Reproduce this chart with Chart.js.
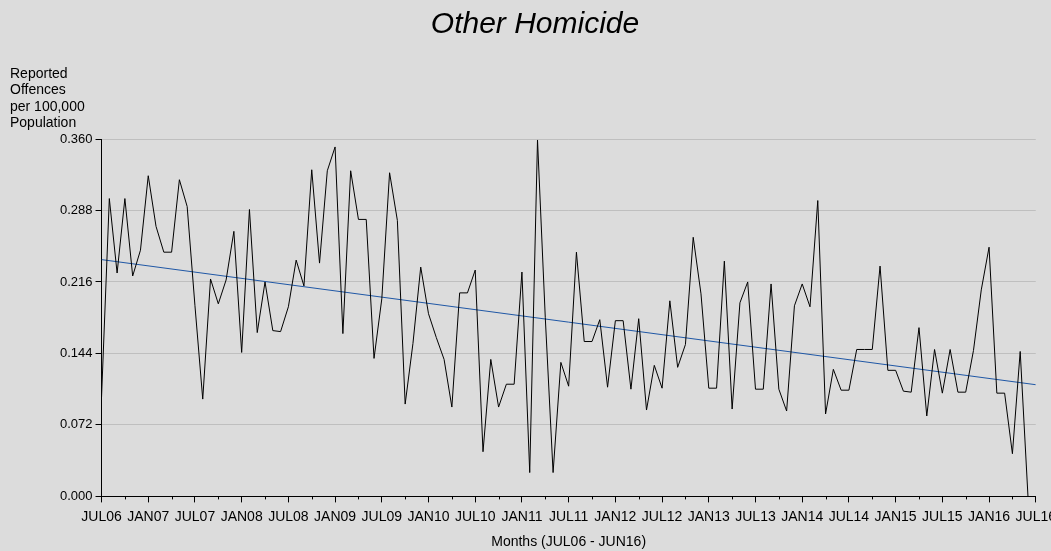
<!DOCTYPE html>
<html>
<head>
<meta charset="utf-8">
<script src="https://cdn.jsdelivr.net/npm/chart.js@4.4.0/dist/chart.umd.min.js"></script>
<style>
  html, body { margin: 0; padding: 0; background: #dcdcdc; overflow: hidden; }
  #wrap { position: relative; width: 1062px; height: 551px; }
</style>
</head>
<body>
<div id="wrap"><canvas id="lineChart"></canvas></div>
<script>
// monthly rate, JUL06 .. JUN16 (120 months)
const values = [
  0.100, 0.300, 0.225, 0.300, 0.222, 0.248, 0.323, 0.272, 0.246, 0.246, 0.319, 0.292,
  0.192, 0.098, 0.219, 0.194, 0.218, 0.267, 0.145, 0.289, 0.165, 0.216, 0.167, 0.166,
  0.191, 0.238, 0.212, 0.329, 0.235, 0.328, 0.352, 0.164, 0.328, 0.279, 0.279, 0.139,
  0.199, 0.326, 0.278, 0.093, 0.154, 0.231, 0.184, 0.160, 0.138, 0.090, 0.205, 0.205,
  0.228, 0.045, 0.138, 0.090, 0.113, 0.113, 0.226, 0.024, 0.359, 0.180, 0.024, 0.135,
  0.111, 0.246, 0.156, 0.156, 0.178, 0.110, 0.177, 0.177, 0.108, 0.179, 0.087, 0.132,
  0.109, 0.197, 0.130, 0.153, 0.261, 0.204, 0.109, 0.109, 0.237, 0.088, 0.195, 0.216,
  0.108, 0.108, 0.214, 0.108, 0.086, 0.192, 0.214, 0.191, 0.298, 0.083, 0.128, 0.107,
  0.107, 0.148, 0.148, 0.148, 0.232, 0.127, 0.127, 0.106, 0.105, 0.170, 0.081, 0.148,
  0.104, 0.148, 0.105, 0.105, 0.147, 0.208, 0.251, 0.104, 0.104, 0.043, 0.146, 0.000
];
// trend line end points (month index, value)
const trendX = [0, 120];
const trendY = [0.2385, 0.1125];

const tickLabels = ['JUL06', 'JAN07', 'JUL07', 'JAN08', 'JUL08', 'JAN09', 'JUL09', 'JAN10',
  'JUL10', 'JAN11', 'JUL11', 'JAN12', 'JUL12', 'JAN13', 'JUL13', 'JAN14', 'JUL14', 'JAN15',
  'JUL15', 'JAN16', 'JUL16'];
const yTicks = [0, 0.072, 0.144, 0.216, 0.288, 0.360];
const yTitle = ['Reported', 'Offences', 'per 100,000', 'Population'];

const FONT = "'Liberation Sans', Arial, sans-serif";

// title, y title block and the short quarter ticks
const extras = {
  id: 'extras',
  afterDraw(chart) {
    const c = chart.ctx;
    const x = chart.scales.x;
    c.save();
    c.fillStyle = '#000';
    c.textBaseline = 'middle';
    c.textAlign = 'center';
    c.font = 'italic 30px ' + FONT;
    c.fillText('Other Homicide', 535, 25);
    c.textAlign = 'left';
    c.font = '14px ' + FONT;
    yTitle.forEach((t, i) => c.fillText(t, 10, 74 + i * 16.5));
    c.strokeStyle = '#000';
    c.lineWidth = 1;
    c.beginPath();
    for (let v = 3; v < 120; v += 6) {
      const px = Math.round(x.getPixelForValue(v)) + 0.5;
      c.moveTo(px, x.top);
      c.lineTo(px, x.top + 3);
    }
    c.stroke();
    c.restore();
  }
};

const ctx = document.getElementById('lineChart').getContext('2d');
const myChart = new Chart(ctx, {
  type: 'line',
  data: {
    datasets: [{
      data: values.map((v, i) => ({ x: i, y: v })),
      borderColor: '#000000',
      borderWidth: 1,
      pointRadius: 0,
      tension: 0
    }, {
      data: trendX.map((v, i) => ({ x: v, y: trendY[i] })),
      borderColor: '#1f57a5',
      borderWidth: 1,
      pointRadius: 0
    }]
  },
  options: {
    responsive: true,
    maintainAspectRatio: false,
    animation: false,
    layout: { padding: { left: 57, top: 139, right: 0, bottom: 0 } },
    plugins: {
      legend: { display: false },
      tooltip: { enabled: false }
    },
    scales: {
      x: {
        type: 'linear',
        min: 0,
        max: 120,
        afterBuildTicks: s => { s.ticks = tickLabels.map((t, i) => ({ value: i * 6 })); },
        ticks: {
          autoSkip: false,
          maxRotation: 0,
          padding: 6,
          color: '#000',
          font: { family: FONT, size: 14 },
          callback: v => tickLabels[Math.round(v / 6)]
        },
        grid: { drawOnChartArea: false, tickLength: 6, tickColor: '#000' },
        border: { color: '#000', width: 1 },
        title: {
          display: true,
          text: 'Months (JUL06 - JUN16)',
          color: '#000',
          font: { family: FONT, size: 14 },
          padding: { top: 3, bottom: 0 }
        }
      },
      y: {
        min: 0,
        max: 0.36,
        afterBuildTicks: s => { s.ticks = yTicks.map(v => ({ value: v })); },
        ticks: {
          padding: 3,
          color: '#000',
          font: { family: FONT, size: 13 },
          callback: v => v.toFixed(3)
        },
        grid: { color: '#bfbfbf', tickLength: 6, tickColor: '#000' },
        border: { color: '#000', width: 1 }
      }
    }
  },
  plugins: [extras]
});
</script>
</body>
</html>
